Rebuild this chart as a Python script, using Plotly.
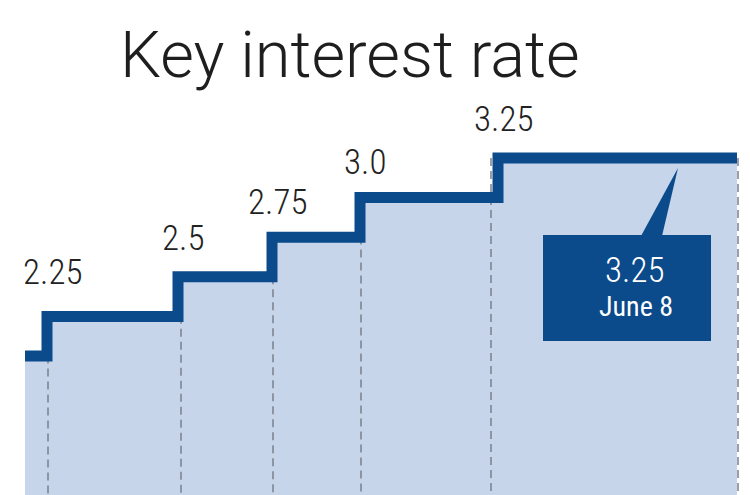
import plotly.graph_objects as go

# ---- data ----
rates = [2.0, 2.25, 2.5, 2.75, 3.0, 3.25]          # key interest rate levels (%)
change_pos = [25, 47, 178, 272, 360, 498]           # timeline position where each level begins
end_pos = 737                                       # end of the timeline
guide_pos = [48, 181, 273, 361, 491, 738]           # dashed guide positions
label_texts = ["2.25", "2.5", "2.75", "3.0", "3.25"]
latest_rate = "3.25"
latest_date = "June 8"

LINE = "#0b4a8b"
FILL = "#c7d5eb"
NARROW = "Roboto Condensed, DejaVu Sans Condensed, sans-serif"
label_lift = [44, 38, 35, 35, 39]   # px above each level line (styling)

xs = change_pos + [end_pos]
ys = rates + [rates[-1]]

fig = go.Figure()

# area fill
fig.add_trace(go.Scatter(x=xs, y=ys, mode="lines", line=dict(width=0, shape="hv"),
                         fill="tozeroy", fillcolor=FILL, hoverinfo="skip", showlegend=False))

# dashed guides
gx, gy = [], []
guide_levels = rates[1:] + [rates[-1]]
for px, lv in zip(guide_pos, guide_levels):
    gx += [px, px, None]
    gy += [lv, 0, None]
fig.add_trace(go.Scatter(x=gx, y=gy, mode="lines",
                         line=dict(color="#7b808a", width=1.5, dash="8px,5px"),
                         hoverinfo="skip", showlegend=False))

# step line
fig.add_trace(go.Scatter(x=xs, y=ys, mode="lines", line=dict(color=LINE, width=11, shape="hv"),
                         hoverinfo="skip", showlegend=False))

# level labels
for t, px, lv, lift in zip(label_texts, change_pos[1:], rates[1:], label_lift):
    fig.add_annotation(x=px, y=lv, text=t, showarrow=False, xanchor="center", yanchor="middle",
                       xshift=5, yshift=lift, font=dict(family=NARROW, size=35, color="#222222", weight=300))

# callout box with pointer
bx0, bx1, by0, by1 = 543 / 750, 711 / 750, 1 - 341 / 495, 1 - 235 / 495
fig.add_shape(type="rect", xref="paper", yref="paper", x0=bx0, x1=bx1, y0=by0, y1=by1,
              fillcolor=LINE, line=dict(width=0), layer="above")
p1 = (641 / 750, by1 - 0.002)
p2 = (662 / 750, by1 - 0.002)
tip = (678 / 750, 1 - 168 / 495)
fig.add_shape(type="path", xref="paper", yref="paper",
              path=f"M {p1[0]},{p1[1]} L {tip[0]},{tip[1]} L {p2[0]},{p2[1]} Z",
              fillcolor=LINE, line=dict(width=0), layer="above")
tx = 634 / 750
fig.add_annotation(xref="paper", yref="paper", x=tx, y=1 - 270 / 495, text=latest_rate,
                   showarrow=False, xanchor="center", yanchor="middle",
                   font=dict(family=NARROW, size=35, color="white", weight=300))
fig.add_annotation(xref="paper", yref="paper", x=tx + 2 / 750, y=1 - 306 / 495, text=latest_date,
                   showarrow=False, xanchor="center", yanchor="middle",
                   font=dict(family=NARROW, size=28, color="white", weight="normal"))

# title
fig.add_annotation(xref="paper", yref="paper", x=350 / 750, y=1 - 55 / 495, text="Key interest rate",
                   showarrow=False, xanchor="center", yanchor="middle",
                   font=dict(family="Roboto, Liberation Sans, sans-serif", size=65, color="#1e1e1e", weight=300))

# y scale: 2.0 -> 356px, 3.25 -> 158px in a 495px tall plot
ppu = (356 - 158) / 1.25
y_top = 3.25 + 158 / ppu
y_bot = 2.0 - (495 - 356) / ppu

fig.update_layout(
    width=750, height=495, margin=dict(l=0, r=0, t=0, b=0),
    paper_bgcolor="white", plot_bgcolor="white",
    xaxis=dict(range=[0, 750], visible=False, fixedrange=True),
    yaxis=dict(range=[y_bot, y_top], visible=False, fixedrange=True),
    showlegend=False,
)

fig.write_html("out.html")
